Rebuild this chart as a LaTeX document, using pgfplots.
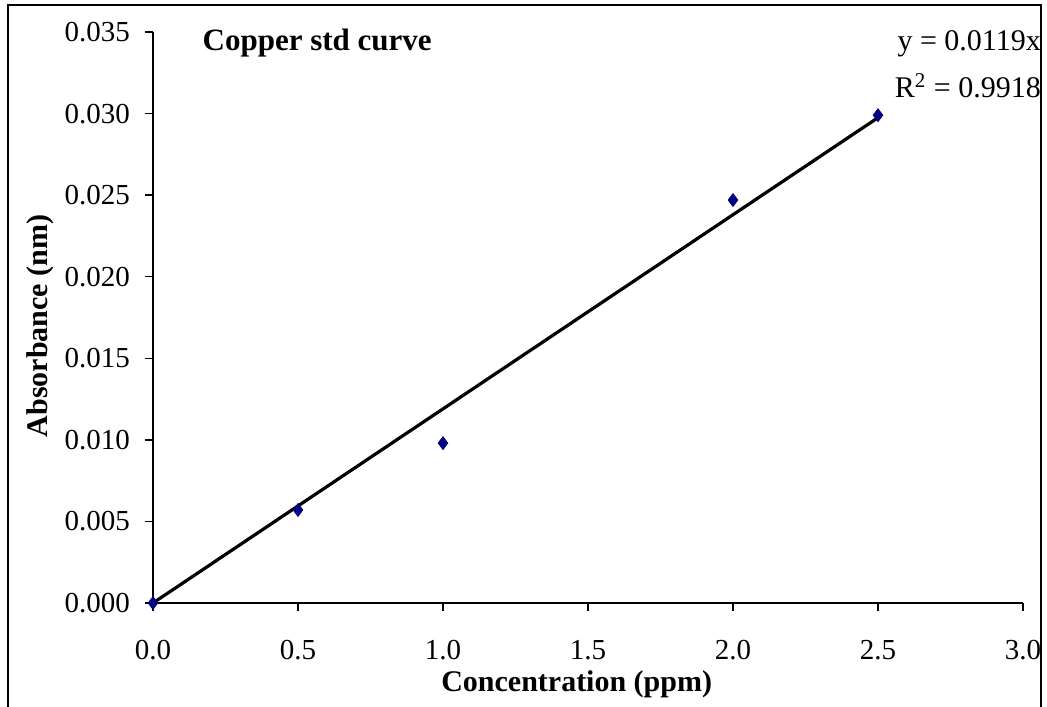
\documentclass[border=0pt]{standalone}
\usepackage{pgfplots}
\pgfplotsset{compat=1.18}
\usepackage{fontspec}
\setmainfont{Liberation Serif}
\definecolor{navy}{RGB}{0,0,128}
\begin{document}
\begin{tikzpicture}[x=1pt,y=1pt]
% page area and chart frame
\useasboundingbox (-76.5,-51.5) rectangle (447,301.5);
\draw[line width=1.1pt] (-72.5,-70) -- (-72.5,299) -- (444,299) -- (444,-70);
\begin{axis}[
  at={(0,0)}, anchor=origin,
  scale only axis, width=435pt, height=285.5pt,
  xmin=0, xmax=3, ymin=0, ymax=0.035,
  axis x line=bottom, axis y line=left,
  axis line style={-, line width=0.7pt},
  tick align=outside, major tick length=4pt,
  tick style={line width=0.7pt, black},
  xtick={0,0.5,...,3}, ytick={0,0.005,...,0.035},
  scaled y ticks=false, scaled x ticks=false,
  /pgf/number format/assume math mode=true,
  xticklabel style={/pgf/number format/fixed, /pgf/number format/fixed zerofill, /pgf/number format/precision=1, yshift=-11pt},
  yticklabel style={/pgf/number format/fixed, /pgf/number format/fixed zerofill, /pgf/number format/precision=3, xshift=-4pt},
  ticklabel style={font=\fontsize{14.5}{16}\selectfont},
  xlabel={\textbf{Concentration (ppm)}},
  ylabel={\textbf{Absorbance (nm)}},
  label style={font=\fontsize{15}{17}\selectfont},
  xlabel style={at={(axis description cs:0.487,0)}, anchor=center, yshift=-40.5pt},
  ylabel style={at={(axis description cs:-0.13,0.485)}, anchor=center},
  clip=false,
]
% linear fit through the origin, y = 0.0119x
\addplot[black, line width=1.6pt] coordinates {(0,0) (2.5,0.02975)};
% measured standards
\addplot[only marks, mark=diamond*, mark size=3.2pt, color=navy] coordinates {
  (0,0) (0.5,0.0057) (1.0,0.0098) (2.0,0.0247) (2.5,0.0299)
};
\node[anchor=west, font=\bfseries\fontsize{15.5}{17}\selectfont, inner sep=0pt] at (axis cs:0.17,0.0343) {Copper std curve};
\node[anchor=east, font=\fontsize{15}{17}\selectfont, inner sep=0pt] at (axis cs:3.063,0.0343) {y = 0.0119x};
\node[anchor=east, font=\fontsize{15}{17}\selectfont, inner sep=0pt] at (axis cs:3.063,0.0317) {R\textsuperscript{2} = 0.9918};
\end{axis}
\end{tikzpicture}
\end{document}
